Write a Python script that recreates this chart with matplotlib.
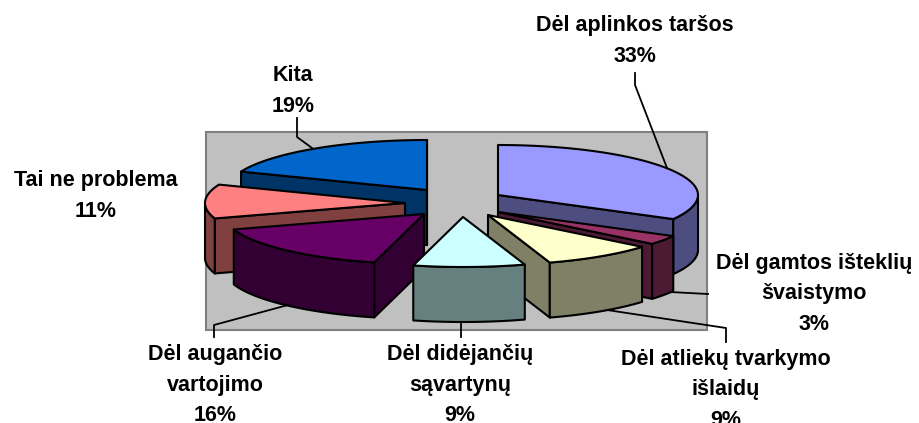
import numpy as np
import matplotlib.pyplot as plt
from matplotlib.patches import Polygon, Rectangle


labels = ["Dėl aplinkos taršos", "Dėl gamtos išteklių\nšvaistymo", "Dėl atliekų tvarkymo\nišlaidų",
          "Dėl didėjančių\nsąvartynų", "Dėl augančio\nvartojimo", "Tai ne problema", "Kita"]
values = [33, 3, 9, 9, 16, 11, 19]      # [%] clockwise from 12 o'clock

top_colors = ["#9999FF", "#993366", "#FFFFCC", "#CCFFFF", "#660066", "#FF8080", "#0066CC"]
side_colors = ["#4D4D80", "#4D1A33", "#808066", "#668080", "#330033", "#804040", "#003366"]

# exploded slice tips, in pixels
tips = [(498, 195), (498, 212), (488, 215), (463, 217), (424, 214), (405, 203), (427, 190)]
label_pos = [(635, 41), (814, 294), (726, 390), (460, 385), (215, 385), (96, 196), (293, 91)]
rx, ry, depth = 200, 50, 55

# which cut faces can be seen: (start face, end face)
cut_faces = [(False, True), (False, True), (False, True), (False, False),
             (True, False), (True, False), (True, True)]
draw_order = [6, 5, 4, 0, 1, 2, 3]

leaders = [
    [(635, 73), (635, 85), (667, 168)],
    [(670, 292), (708, 294)],
    [(607, 310), (726, 328), (726, 342)],
    [(461, 323), (461, 337)],
    [(288, 305), (214, 325), (214, 337)],
    [(297, 118), (297, 137), (312, 148)],
]


def rim(tip, a, b, n=60):
    t = np.linspace(a, b, n)
    return np.column_stack([tip[0] + rx*np.sin(t), tip[1] - ry*np.cos(t)])


def draw_slice(ax, i, a, b):
    tip = tips[i]
    edge = dict(edgecolor="black", linewidth=1.5, joinstyle="round")
    down = np.array([0, depth])

    # cut faces first, the outer wall and the top go over them
    for show, ang in zip(cut_faces[i], (a, b)):
        if show:
            p = rim(tip, ang, ang, 1)[0]
            face = [tip, p, p + down, np.array(tip) + down]
            ax.add_patch(Polygon(face, facecolor=side_colors[i], **edge))

    # outer wall only where the rim faces the viewer
    lo = max(a, np.pi/2)
    hi = min(b, 3*np.pi/2)
    if lo < hi:
        r = rim(tip, lo, hi)
        wall = np.vstack([r, (r + down)[::-1]])
        ax.add_patch(Polygon(wall, facecolor=side_colors[i], **edge))

    top = np.vstack([[tip], rim(tip, a, b)])
    ax.add_patch(Polygon(top, facecolor=top_colors[i], **edge))


fig = plt.figure(figsize=(9.2, 4.23), dpi=100)
ax = fig.add_axes([0, 0, 1, 1])
ax.set_xlim(0, 920)
ax.set_ylim(423, 0)
ax.axis("off")

ax.add_patch(Rectangle((206, 132), 501, 198, facecolor="#C0C0C0", edgecolor="#808080", linewidth=1.5))

edges = 2*np.pi*np.cumsum([0] + values)/sum(values)
for i in draw_order:
    draw_slice(ax, i, edges[i], edges[i+1])

for line in leaders:
    xy = np.array(line)
    ax.plot(xy[:, 0], xy[:, 1], color="black", linewidth=1.3, zorder=5)

for name, val, pos in zip(labels, values, label_pos):
    ax.text(pos[0], pos[1], f"{name}\n{val}%", ha="center", va="center", fontsize=15.5,
            fontweight="bold", family="Liberation Sans", linespacing=1.58, zorder=6)

fig.savefig("out.png", dpi=100)
